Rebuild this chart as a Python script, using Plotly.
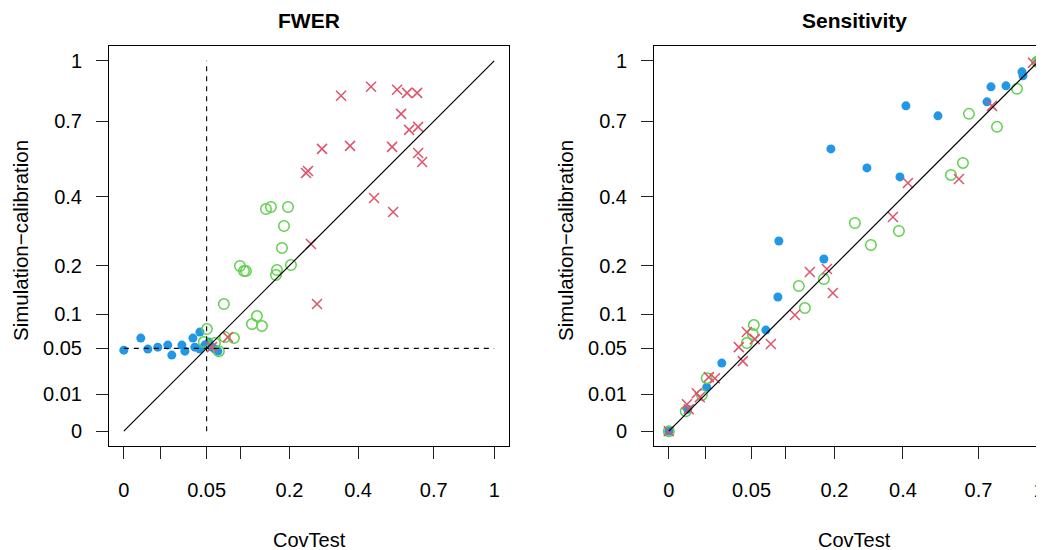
import numpy as np
import plotly.graph_objects as go

# ---------------- data (original, untransformed values) ----------------
tick_values = [0, 0.01, 0.05, 0.1, 0.2, 0.4, 0.7, 1]
y_tick_labels = ["0", "0.01", "0.05", "0.1", "0.2", "0.4", "0.7", "1"]
x_tick_labels = ["0", "", "0.05", "", "0.2", "0.4", "0.7", "1"]

# FWER panel
fwer_blue_x = [0.0, 0.0021, 0.0042, 0.0084, 0.0141, 0.0168, 0.0246, 0.0272, 0.0348,
               0.0368, 0.0422, 0.0422, 0.0479, 0.0528, 0.0566, 0.0605, 0.0645]
fwer_blue_y = [0.0479, 0.0632, 0.0491, 0.0515, 0.0540, 0.0422, 0.0540, 0.0467, 0.0632,
               0.0515, 0.0716, 0.0491, 0.0540, 0.0579, 0.0515, 0.0491, 0.0467]

fwer_green_x = [0.1473, 0.1578, 0.1965, 0.1870, 0.1824, 0.0983, 0.1052, 0.1087, 0.1710,
                0.1688, 0.2037, 0.0730, 0.1292, 0.1197, 0.1391, 0.0503, 0.0467, 0.0605,
                0.0659, 0.0745, 0.0884]
fwer_green_y = [0.3600, 0.3665, 0.3665, 0.3070, 0.2446, 0.1989, 0.1870, 0.1870, 0.1893,
                0.1778, 0.2013, 0.1178, 0.0966, 0.0836, 0.0805, 0.0760, 0.0579, 0.0566,
                0.0467, 0.0645, 0.0632]

fwer_red_x = [0.3440, 0.4456, 0.5444, 0.5850, 0.6271, 0.5605, 0.5933, 0.6314, 0.2864,
              0.3731, 0.5246, 0.6314, 0.6487, 0.2420, 0.2473, 0.4565, 0.5286, 0.2554,
              0.2721, 0.0566, 0.0790]
fwer_red_y = [0.8198, 0.8644, 0.8494, 0.8345, 0.8345, 0.7340, 0.6618, 0.6751, 0.5809,
              0.5933, 0.5892, 0.5645, 0.5286, 0.4862, 0.4938, 0.3966, 0.3503, 0.2554,
              0.1178, 0.0515, 0.0645]

# Sensitivity panel
sens_blue_x = [0.0, 0.0026, 0.0105, 0.0205, 0.0687, 0.0868, 0.0884, 0.1755, 0.1917,
               0.2864, 0.3898, 0.4103, 0.5286, 0.7387, 0.7574, 0.8296, 0.9102, 0.9154, 1.0]
sens_blue_y = [0.0, 0.0035, 0.0141, 0.0338, 0.0745, 0.1312, 0.2637, 0.2161, 0.5809,
               0.5053, 0.4713, 0.7716, 0.7248, 0.7907, 0.8644, 0.8694, 0.9414, 0.9206, 1.0]

sens_green_x = [0.0, 0.0021, 0.0080, 0.0105, 0.0444, 0.0515, 0.0528, 0.1234, 0.1351,
                0.1755, 0.2527, 0.2981, 0.3864, 0.5809, 0.6314, 0.6574, 0.7859, 0.8846,
                0.9892, 1.0]
sens_green_y = [0.0, 0.0029, 0.0095, 0.0205, 0.0566, 0.0687, 0.0821, 0.1536, 0.1105,
                0.1688, 0.3160, 0.2527, 0.2922, 0.4787, 0.5246, 0.7340, 0.6751, 0.8544,
                0.9946, 1.0]

sens_red_x = [0.0, 0.0024, 0.0029, 0.0057, 0.0070, 0.0117, 0.0155, 0.0358, 0.0400,
              0.0444, 0.0540, 0.0760, 0.1160, 0.1452, 0.1824, 0.1965, 0.3665, 0.4172,
              0.6143, 0.7621, 0.9678]
sens_red_y = [0.0, 0.0053, 0.0035, 0.0105, 0.0084, 0.0213, 0.0205, 0.0515, 0.0358,
              0.0716, 0.0618, 0.0553, 0.0983, 0.1847, 0.1917, 0.1391, 0.3345, 0.4493,
              0.4639, 0.7716, 0.9892]

ref_line = [0, 1]
alpha = 0.05

# ---------------- styles ----------------
BLUE = "#2297E6"
GREEN = "#61D04F"
RED = "#DF536B"
FONT = "Liberation Sans, Arial, sans-serif"

# the page body adds an 8px margin; size the figure to fill the rest of the window
OFF = 8
W, H = 1044 - OFF, 550 - OFF


def fx(sx):
    return (sx - OFF) / W


def fy(sy):
    return (H - (sy - OFF)) / H


def tr(v):
    return np.sqrt(np.asarray(v, dtype=float))


fig = go.Figure()


def add_points(xa, ya, bx, by, gx, gy, rx, ry):
    fig.add_trace(go.Scatter(x=tr(bx), y=tr(by), mode="markers", xaxis=xa, yaxis=ya,
                             marker=dict(symbol="circle", size=9, color=BLUE,
                                         line=dict(width=0)), showlegend=False))
    fig.add_trace(go.Scatter(x=tr(gx), y=tr(gy), mode="markers", xaxis=xa, yaxis=ya,
                             marker=dict(symbol="circle-open", size=10.5, color=GREEN,
                                         line=dict(width=1.5, color=GREEN)),
                             showlegend=False))
    fig.add_trace(go.Scatter(x=tr(rx), y=tr(ry), mode="markers", xaxis=xa, yaxis=ya,
                             marker=dict(symbol="x-thin-open", size=10, color=RED,
                                         line=dict(width=1.5, color=RED)),
                             showlegend=False))
    fig.add_trace(go.Scatter(x=tr(ref_line), y=tr(ref_line), mode="lines", xaxis=xa,
                             yaxis=ya, line=dict(color="black", width=1.2),
                             showlegend=False, hoverinfo="skip"))


add_points("x", "y", fwer_blue_x, fwer_blue_y, fwer_green_x, fwer_green_y,
           fwer_red_x, fwer_red_y)
# dashed reference lines at alpha
fig.add_trace(go.Scatter(x=tr([alpha, alpha]), y=tr(ref_line), mode="lines",
                         line=dict(color="black", width=1.1, dash="5px,5px"),
                         showlegend=False, hoverinfo="skip"))
fig.add_trace(go.Scatter(x=tr(ref_line), y=tr([alpha, alpha]), mode="lines",
                         line=dict(color="black", width=1.1, dash="5px,5px"),
                         showlegend=False, hoverinfo="skip"))

add_points("x2", "y2", sens_blue_x, sens_blue_y, sens_green_x, sens_green_y,
           sens_red_x, sens_red_y)

tickfont = dict(family=FONT, size=20, color="black")
common = dict(tickvals=list(tr(tick_values)), showgrid=False, zeroline=False,
              showline=True, linecolor="black", linewidth=1, ticks="outside",
              ticklen=12, tickwidth=1, tickcolor="#222", tickfont=tickfont,
              ticklabeloverflow="allow")

# screen-pixel geometry of the plot regions (sqrt scale, 370 px per unit)
y_dom = [fy(446), fy(46)]
fig.update_layout(
    width=W, height=H, margin=dict(l=0, r=0, t=0, b=0),
    paper_bgcolor="white", plot_bgcolor="white",
    xaxis=dict(domain=[fx(109), fx(509)], range=[-0.04, 1.04], ticktext=x_tick_labels,
               mirror=True, anchor="y", ticklabelstandoff=14, **common),
    yaxis=dict(domain=y_dom, range=[-0.04, 1.04], ticktext=y_tick_labels,
               mirror=True, anchor="x", ticklabelstandoff=10, **common),
    xaxis2=dict(domain=[fx(654), 1.0], range=[-0.04, (1044 - 669) / 370],
                ticktext=x_tick_labels, mirror=True, anchor="y2",
                ticklabelstandoff=14, **common),
    yaxis2=dict(domain=y_dom, range=[-0.04, 1.04], ticktext=y_tick_labels,
                mirror=False, anchor="x2", ticklabelstandoff=10, **common),
)

ann = []
for xc, title in [(309, "FWER"), (854, "Sensitivity")]:
    ann.append(dict(text="<b>%s</b>" % title, x=fx(xc), y=fy(20), xref="paper",
                    yref="paper", showarrow=False, xanchor="center", yanchor="middle",
                    font=dict(family=FONT, size=21, color="black")))
    ann.append(dict(text="CovTest", x=fx(xc), y=fy(540), xref="paper",
                    yref="paper", showarrow=False, xanchor="center", yanchor="middle",
                    font=dict(family=FONT, size=20, color="black")))
for xc in [21, 566]:
    ann.append(dict(text="Simulation\u2212calibration", x=fx(xc), y=fy(241),
                    xref="paper", yref="paper", showarrow=False, textangle=-90,
                    xanchor="center", yanchor="middle",
                    font=dict(family=FONT, size=20.5, color="black")))
fig.update_layout(annotations=ann)

fig.write_html("out.html")
